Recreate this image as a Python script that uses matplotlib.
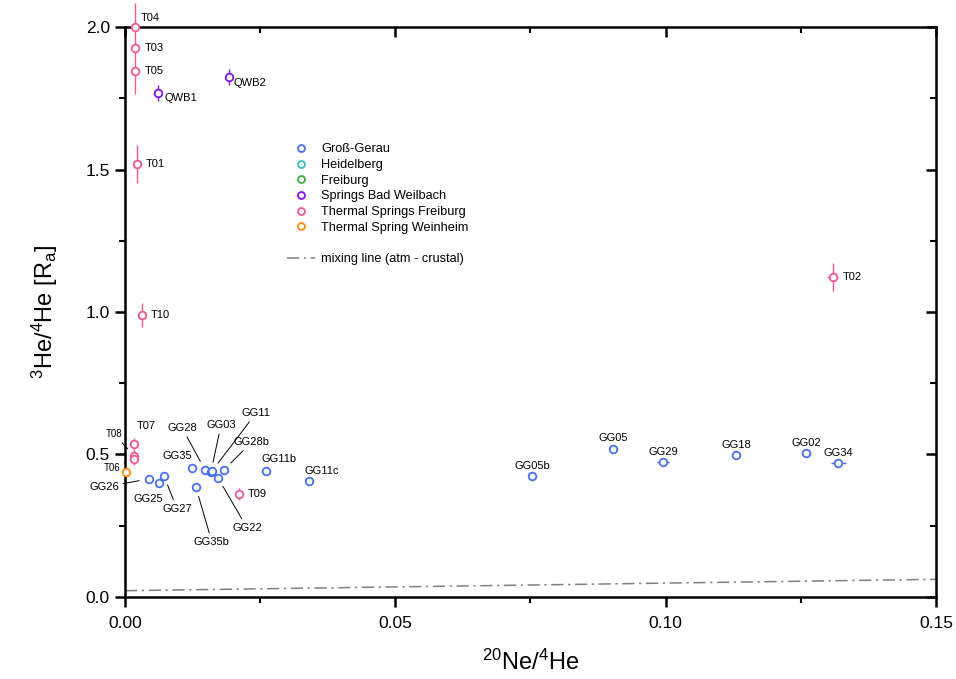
import matplotlib
matplotlib.use('Agg')
import matplotlib.pyplot as plt
from matplotlib.lines import Line2D

plt.rcParams['font.family'] = ['Liberation Sans', 'DejaVu Sans']
plt.rcParams['mathtext.fontset'] = 'custom'
plt.rcParams['mathtext.rm'] = 'Liberation Sans'
plt.rcParams['mathtext.it'] = 'Liberation Sans:italic'

# ============== data ==============
# Groß-Gerau
gg_names = ['GG26', 'GG25', 'GG27', 'GG35', 'GG35b', 'GG28', 'GG03', 'GG11', 'GG22',
            'GG28b', 'GG11b', 'GG11c', 'GG05b', 'GG05', 'GG29', 'GG18', 'GG02', 'GG34']
gg_x = [0.0044, 0.0063, 0.0072, 0.0124, 0.0131, 0.0148, 0.0159, 0.0161, 0.0172,
        0.0183, 0.0261, 0.0340, 0.0753, 0.0903, 0.0995, 0.1130, 0.1260, 0.1319]
gg_y = [0.414, 0.400, 0.425, 0.453, 0.386, 0.446, 0.439, 0.442, 0.418,
        0.446, 0.442, 0.407, 0.425, 0.519, 0.474, 0.498, 0.505, 0.470]
gg_xerr = [0.0004, 0.0004, 0.0004, 0.0004, 0.0004, 0.0004, 0.0004, 0.0004, 0.0004,
           0.0004, 0.0004, 0.0004, 0.0006, 0.0004, 0.0011, 0.0006, 0.0008, 0.0014]
gg_yerr = [0.015] * 18

# Heidelberg / Freiburg (legend only)
hd_x, hd_y = [], []
fr_x, fr_y = [], []

# Springs Bad Weilbach
qwb_names = ['QWB1', 'QWB2']
qwb_x = [0.0061, 0.0192]
qwb_y = [1.768, 1.825]
qwb_yerr = [0.027, 0.027]

# Thermal Springs Freiburg
t_names = ['T04', 'T03', 'T05', 'T01', 'T10', 'T02', 'T07', 'T08', 'T06', 'T09']
t_x = [0.0018, 0.0018, 0.0018, 0.0022, 0.0031, 0.1309, 0.0017, 0.0017, 0.0017, 0.0211]
t_y = [2.000, 1.926, 1.846, 1.519, 0.989, 1.123, 0.537, 0.495, 0.484, 0.361]
t_xerr = [0.0, 0.0, 0.0, 0.0, 0.0, 0.0010, 0.0, 0.0, 0.0, 0.0]
t_yerr = [0.085, 0.02, 0.08, 0.068, 0.042, 0.05, 0.02, 0.02, 0.02, 0.022]

# Thermal Spring Weinheim
wh_x = [0.0002]
wh_y = [0.437]

# mixing line (atm - crustal)
mix_x = [0.0, 0.15]
mix_y = [0.022, 0.062]

# ============== label placement (offset pixels, ha, va, leader) ==============
label_pos = {
    'GG26': (-30, -8, 'right', 'center', True),
    'GG25': (-11, -16, 'center', 'center', False),
    'GG27': (13, -33, 'center', 'center', True),
    'GG35': (-15, 12, 'center', 'center', False),
    'GG35b': (16, -55, 'center', 'center', True),
    'GG28': (-23, 42, 'center', 'center', True),
    'GG03': (10, 47, 'center', 'center', True),
    'GG11': (44, 58, 'center', 'center', True),
    'GG22': (29, -50, 'center', 'center', True),
    'GG28b': (28, 28, 'center', 'center', True),
    'GG11b': (13, 12, 'center', 'center', False),
    'GG11c': (13, 10, 'center', 'center', False),
    'GG05b': (0, 10, 'center', 'center', False),
    'GG05': (0, 11, 'center', 'center', False),
    'GG29': (0, 10, 'center', 'center', False),
    'GG18': (0, 10, 'center', 'center', False),
    'GG02': (0, 10, 'center', 'center', False),
    'GG34': (0, 10, 'center', 'center', False),
    'QWB1': (6, -5, 'left', 'center', False),
    'QWB2': (5, -6, 'left', 'center', False),
    'T04': (6, 9, 'left', 'center', False),
    'T03': (10, 0, 'left', 'center', False),
    'T05': (10, 0, 'left', 'center', False),
    'T01': (9, 0, 'left', 'center', False),
    'T10': (9, 0, 'left', 'center', False),
    'T02': (10, 0, 'left', 'center', False),
    'T07': (3, 18, 'left', 'center', False),
    'T08': (-12, 22, 'right', 'center', True),
    'T06': (-14, -9, 'right', 'center', True),
    'T09': (9, 0, 'left', 'center', False),
}
small_labels = ['T08', 'T06']

# ============== colours ==============
c_gg = '#4a6ef0'
c_hd = '#3cbcbc'
c_fr = '#3ea63e'
c_qwb = '#8016f0'
c_t = '#ee5a8e'
c_wh = '#ff8a14'

fig, ax = plt.subplots(figsize=(9.56, 6.79), dpi=100)
fig.subplots_adjust(left=0.1308, right=0.979, bottom=0.1208, top=0.9602)

mk = dict(fmt='o', ms=5.5, mfc='white', mew=1.3, elinewidth=1.0, capsize=0, clip_on=False, zorder=3)

ax.errorbar(gg_x, gg_y, xerr=gg_xerr, yerr=gg_yerr, color=c_gg, mec=c_gg, **mk)
ax.errorbar(qwb_x, qwb_y, yerr=qwb_yerr, color=c_qwb, mec=c_qwb, **mk)
ax.errorbar(t_x, t_y, xerr=t_xerr, yerr=t_yerr, color=c_t, mec=c_t, **mk)
ax.errorbar(wh_x, wh_y, color=c_wh, mec=c_wh, **mk)

ax.plot(mix_x, mix_y, color='#808080', linestyle=(0, (8, 3, 1.5, 3)), lw=1.1, zorder=2)

for names, xs, ys in [(gg_names, gg_x, gg_y), (qwb_names, qwb_x, qwb_y), (t_names, t_x, t_y)]:
    for n, xv, yv in zip(names, xs, ys):
        dx, dy, ha, va, lead = label_pos[n]
        fs = 7 if n in small_labels else 8
        arrow = dict(arrowstyle='-', color='black', lw=0.7, shrinkA=1, shrinkB=7) if lead else None
        ax.annotate(n, (xv, yv), xytext=(dx, dy), textcoords='offset pixels',
                    ha=ha, va=va, fontsize=fs, arrowprops=arrow, annotation_clip=False)

ax.set_xlim(0, 0.15)
ax.set_ylim(0, 2.0)
ax.set_xticks([0, 0.05, 0.10, 0.15])
ax.set_xticklabels(['0.00', '0.05', '0.10', '0.15'])
ax.set_yticks([0, 0.5, 1.0, 1.5, 2.0])
ax.set_yticklabels(['0.0', '0.5', '1.0', '1.5', '2.0'])
ax.set_xticks([0.025, 0.075, 0.125], minor=True)
ax.set_yticks([0.25, 0.75, 1.25, 1.75], minor=True)
ax.tick_params(which='major', direction='out', length=7.5, width=1.8, labelsize=12.5)
ax.tick_params(which='minor', direction='out', length=4, width=1.5)
ax.tick_params(which='both', top=True, right=True, labeltop=False, labelright=False)
ax.xaxis.set_tick_params(which='both', pad=6)
for s in ax.spines.values():
    s.set_linewidth(1.8)

# top/right ticks point inwards
for t in ax.xaxis.get_major_ticks() + ax.xaxis.get_minor_ticks():
    t.tick2line.set_marker(3)
for t in ax.yaxis.get_major_ticks() + ax.yaxis.get_minor_ticks():
    t.tick2line.set_marker(0)

ax.set_xlabel(r'$\mathregular{^{20}Ne/^{4}He}$', fontsize=17, labelpad=14)
ax.set_ylabel(r'$\mathregular{^{3}He/^{4}He\ [R_{a}]}$', fontsize=17, labelpad=18)

handles = [
    Line2D([], [], marker='o', ls='none', mfc='white', mec=c_gg, mew=1.3, ms=5),
    Line2D([], [], marker='o', ls='none', mfc='white', mec=c_hd, mew=1.3, ms=5),
    Line2D([], [], marker='o', ls='none', mfc='white', mec=c_fr, mew=1.3, ms=5),
    Line2D([], [], marker='o', ls='none', mfc='white', mec=c_qwb, mew=1.3, ms=5),
    Line2D([], [], marker='o', ls='none', mfc='white', mec=c_t, mew=1.3, ms=5),
    Line2D([], [], marker='o', ls='none', mfc='white', mec=c_wh, mew=1.3, ms=5),
    Line2D([], [], ls='none'),
    Line2D([], [], color='#808080', linestyle=(0, (8, 3, 1.5, 3)), lw=1.1),
]
labels = ['Groß-Gerau', 'Heidelberg', 'Freiburg', 'Springs Bad Weilbach',
          'Thermal Springs Freiburg', 'Thermal Spring Weinheim', ' ', 'mixing line (atm - crustal)']
ax.legend(handles, labels, loc='upper left', bbox_to_anchor=(0.2, 0.796), frameon=False,
          fontsize=9.2, borderpad=0, borderaxespad=0, handlelength=2.2, handletextpad=0.45,
          labelspacing=0.29)

plt.savefig('out.png', dpi=100)
